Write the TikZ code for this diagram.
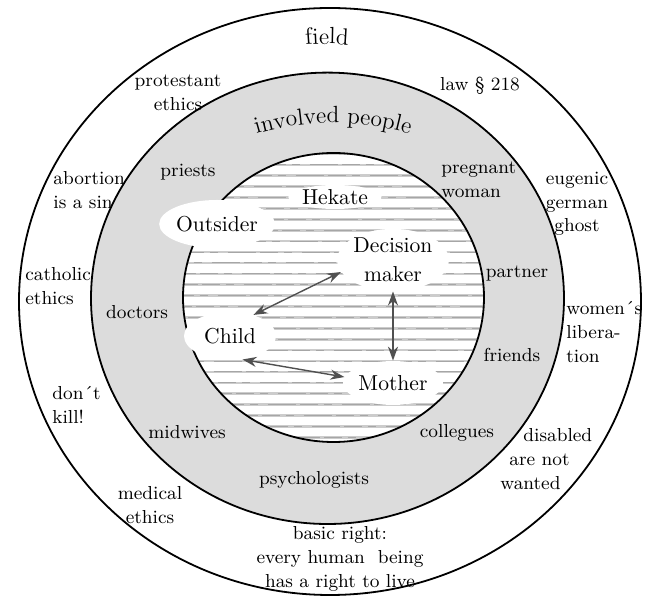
\documentclass[tikz,border=0pt]{standalone}
\usetikzlibrary{arrows.meta,shapes.geometric,decorations.text}
\definecolor{ringgray}  {HTML}{DCDCDC}
\definecolor{stripegray}{HTML}{CCCCCC}
\definecolor{streakgray}{HTML}{A6A6A6}
\definecolor{arrowgray} {HTML}{505050}
\tikzset{
  ring/.style   ={draw=black, line width=0.9pt},
  stripe/.style ={draw=stripegray, line width=1.3pt},
  streak/.style ={draw=streakgray, line width=0.5pt,
                  dash pattern=on 9pt off 3pt on 4pt off 5pt on 14pt off 2pt},
  lbl/.style    ={font=\fontsize{9.4}{11.8}\selectfont, align=center, inner sep=0pt},
  lbll/.style   ={lbl, align=left, anchor=west},
  person/.style ={ellipse, fill=white, inner sep=0pt, align=center,
                  font=\fontsize{10.8}{14.5}\selectfont},
  rel/.style    ={{Stealth[length=7pt,width=5pt]}-{Stealth[length=7pt,width=5pt]},
                  line width=0.7pt, draw=arrowgray},
}

\begin{document}
\begin{tikzpicture}[x=0.5pt,y=-0.5pt]
    \useasboundingbox (0,0) rectangle (645,598);

    % Rings
    \draw[ring] (330,301.5) ellipse [x radius=311, y radius=293.5];
    \filldraw[ring,fill=ringgray] (327.5,298.3) ellipse [x radius=236.5, y radius=225.7];
    \fill[white] (333.5,297.5) ellipse [x radius=150.5, y radius=144.5];

    % Stripes of the inner circle
    \begin{scope}
      \clip (333.5,297.5) ellipse [x radius=150.5, y radius=144.5];
      \foreach \k [evaluate=\k as \ph using {mod(\k*23+\k*\k*7,37)}] in {0,...,26} {
        \draw[stripe] (180,154+10.9*\k) -- (490,154+10.9*\k);
        \draw[streak,dash phase=\ph pt] (180,154+10.9*\k) -- (490,154+10.9*\k);
      }
    \end{scope}
    \draw[ring] (333.5,297.5) ellipse [x radius=150.5, y radius=144.5];

    % Persons
    \node[person,minimum width=40pt,minimum height=12pt] (hekate)   at (335,197) {Hekate};
    \node[person,minimum width=56pt,minimum height=24pt] (outsider) at (217,224) {Outsider};
    \node[person,minimum width=52pt,minimum height=30pt] (dm)       at (393,260) {Decision\\maker};
    \node[person,minimum width=46pt,minimum height=24pt] (child)    at (230,336) {Child};
    \node[person,minimum width=50pt,minimum height=22pt] (mother)   at (393,383) {Mother};

    \draw[rel] (child.42) -- (dm.193);
    \draw[rel] (dm.south) -- (mother.north);
    \draw[rel] (child.-62) -- (mother.173);

    % Involved people
    \path[decorate,decoration={text along path,text align=center,
          text={|\fontsize{11.7}{14}\selectfont|involved people}}]
      (239.97,139.4) arc [start angle=-110, end angle=-70, radius=272];
    \node[lbl]  (priests)       at (188,172) {priests};
    \node[lbll] (pregnant)      at (441,180) {pregnant\\woman};
    \node[lbl]  (partner)       at (517,274) {partner};
    \node[lbl]  (doctors)       at (137,312) {doctors};
    \node[lbl]  (friends)       at (512,355) {friends};
    \node[lbl]  (midwives)      at (187,432) {midwives};
    \node[lbl]  (collegues)     at (457,433) {collegues};
    \node[lbl]  (psychologists) at (314,480) {psychologists};

    % Field
    \path[decorate,decoration={text along path,text align=center,
          text={|\fontsize{11.7}{14}\selectfont|field}}]
      (282.55,47.9) arc [start angle=-100, end angle=-80, radius=256];
    \node[lbl]  (protestant) at (178,93)  {protestant\\ethics};
    \node[lbl]  (law)        at (480,86)  {law \S{} 218};
    \node[lbll] (sin)        at (53,190)  {abortion\\is a sin};
    \node[lbl]  (eugenic)    at (577,204) {eugenic\\german\\ghost};
    \node[lbll] (catholic)   at (25,286)  {catholic\\ethics};
    \node[lbll] (womens)     at (566,332) {women´s\\libera-\\tion};
    \node[lbll] (dontkill)   at (52,405)  {don´t\\kill!};
    \node[lbll] (disabled)   at (500,459) {\hspace*{11.5pt}disabled\\\hspace*{4.5pt}are not\\wanted};
    \node[lbl]  (medical)    at (150,505) {medical\\ethics};
    \node[lbl]  (basicright) at (340,559) {basic right:\\every human~ being\\has a right to live};
\end{tikzpicture}
\end{document}
